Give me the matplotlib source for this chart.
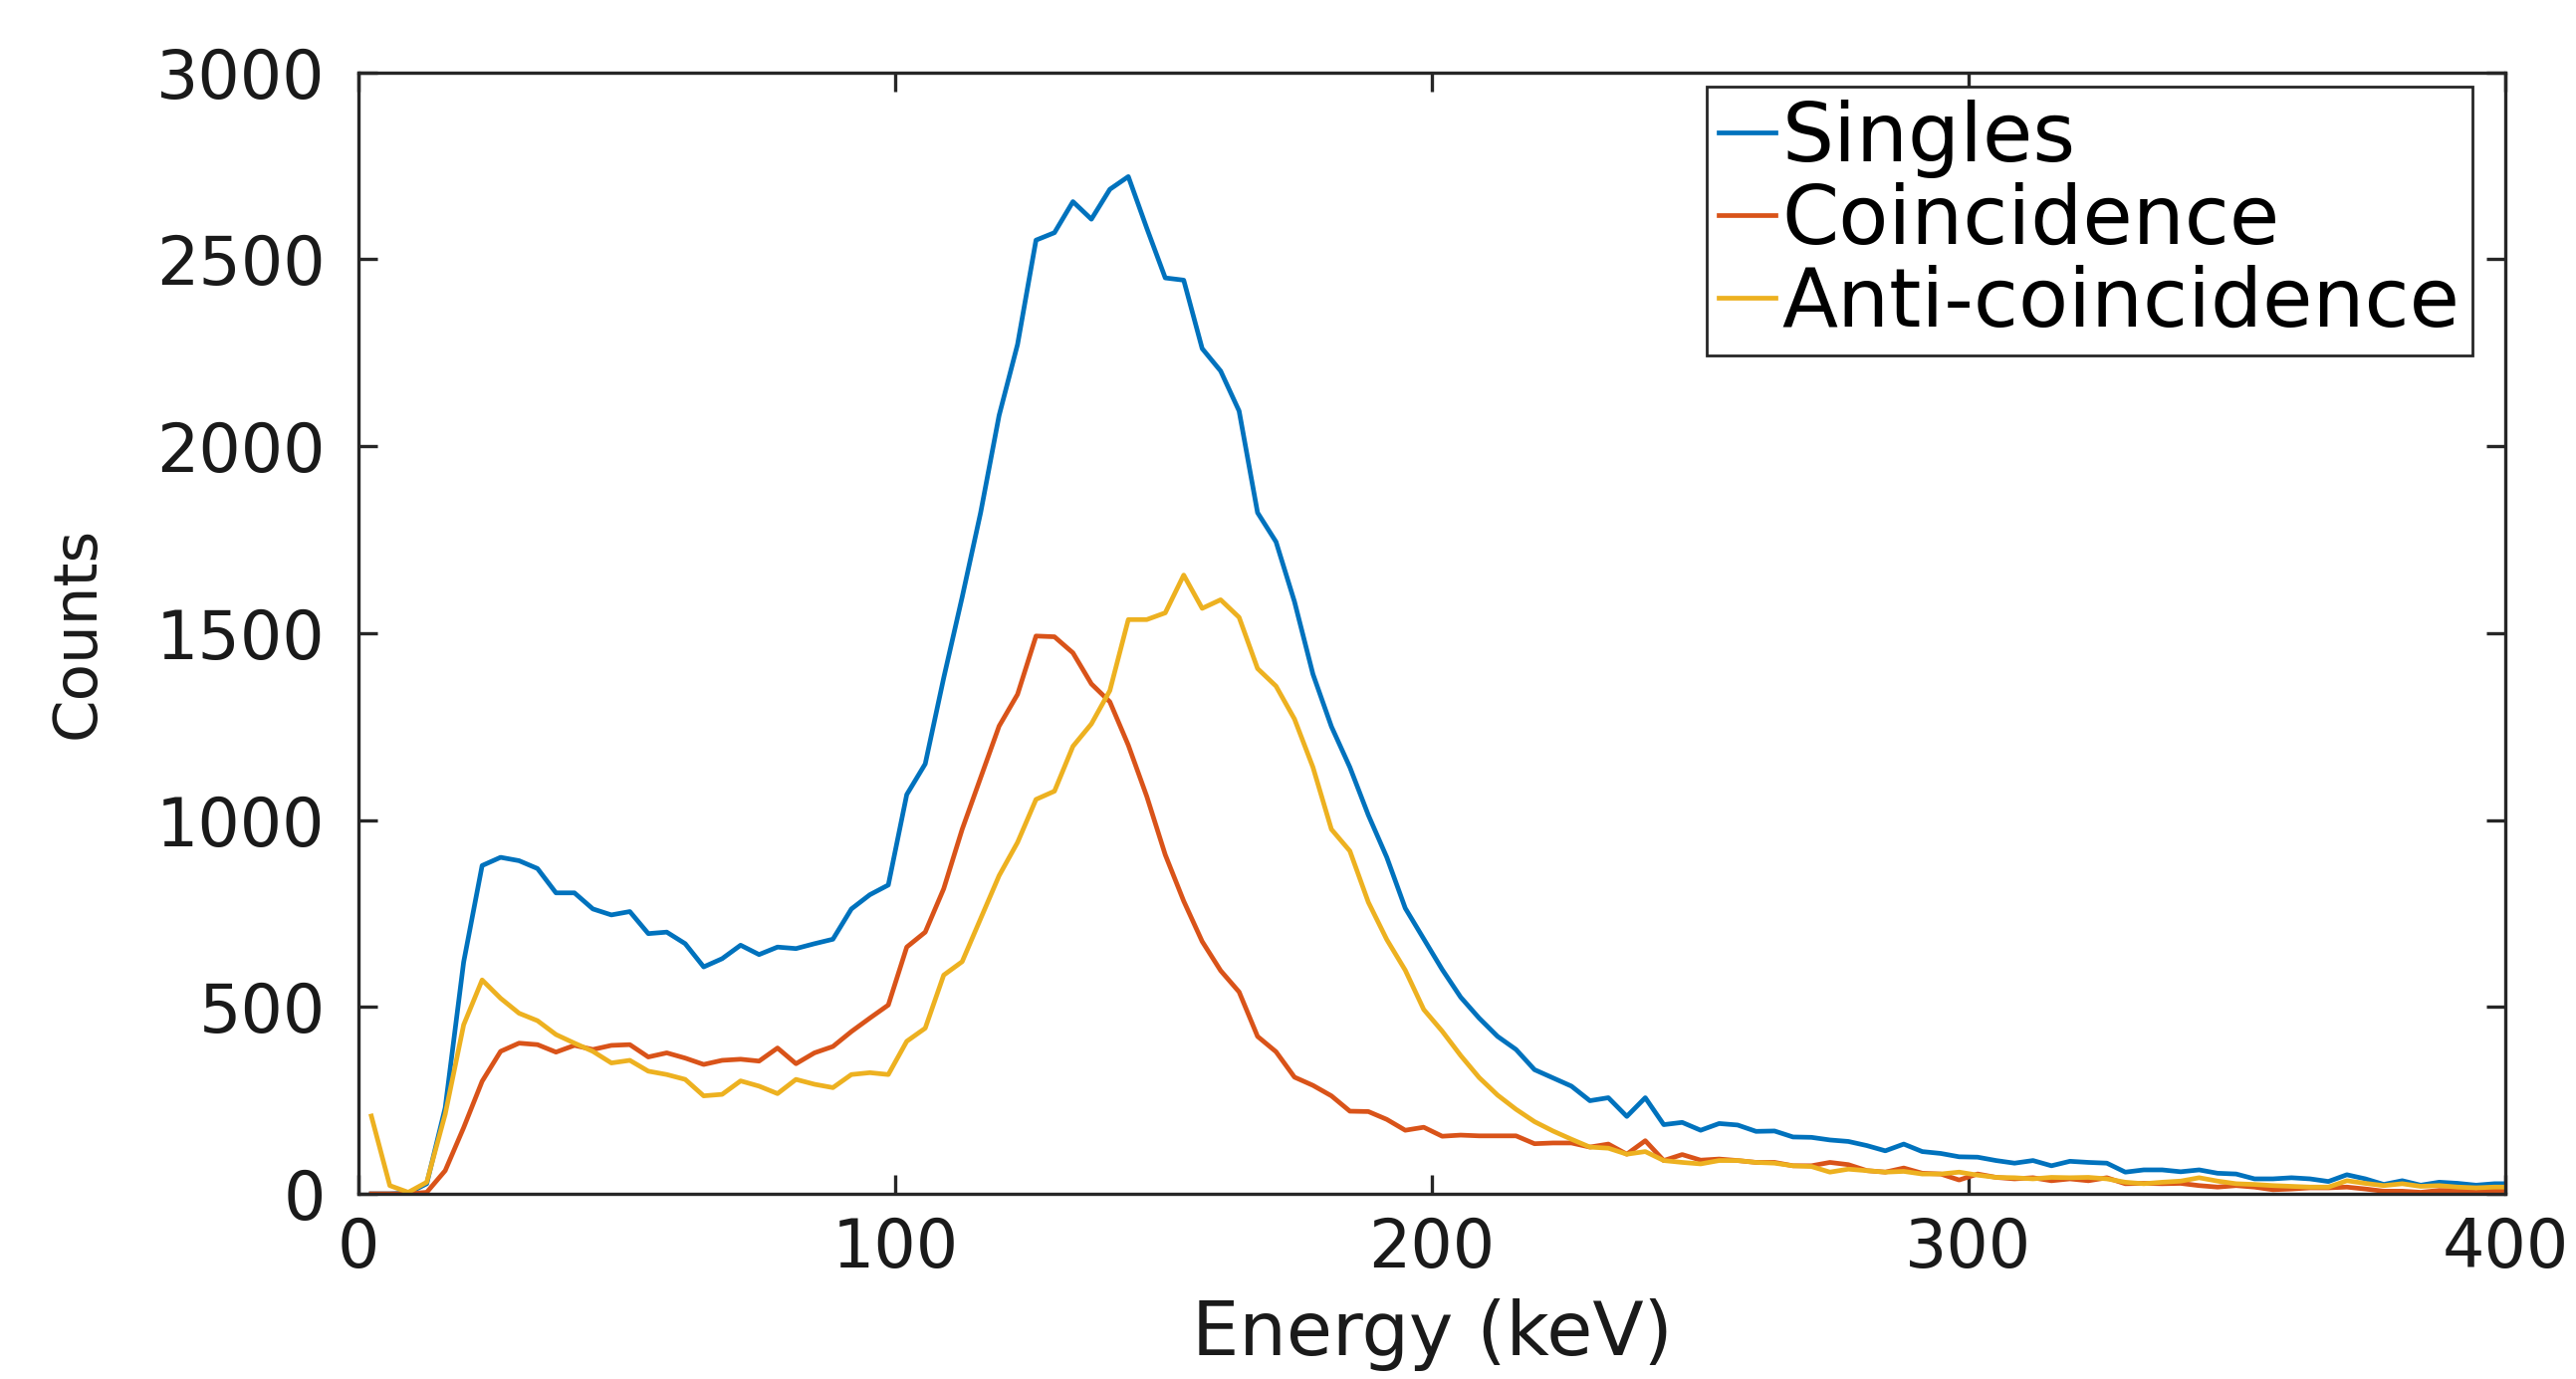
import numpy as np
import matplotlib
matplotlib.use("Agg")
import matplotlib.pyplot as plt

# Channel energies (keV), evenly spaced detector bins
energy = np.linspace(2.4, 2.4 + 3.44 * 116, 117)

singles = [0, 0, 2, 27, 230, 620, 878, 900, 891, 870,
           805, 805, 762, 746, 755, 696, 700, 669, 607, 629,
           665, 640, 660, 656, 669, 681, 762, 800, 826, 1068,
           1150, 1380, 1596, 1822, 2082, 2272, 2551, 2571, 2654, 2607,
           2687, 2721, 2583, 2450, 2444, 2261, 2201, 2094, 1822, 1744,
           1584, 1390, 1250, 1141, 1013, 900, 764, 682, 600, 526,
           470, 421, 386, 332, 310, 288, 249, 257, 207, 257,
           185, 191, 170, 188, 184, 167, 168, 152, 151, 144,
           140, 129, 115, 133, 113, 108, 99, 98, 89, 82,
           89, 75, 87, 84, 82, 58, 64, 64, 59, 64,
           55, 53, 40, 40, 43, 40, 33, 51, 40, 25,
           35, 23, 31, 28, 23, 27, 27]

coincidence = [0, 0, 0, 4, 62, 177, 301, 381, 403, 399,
               379, 397, 386, 397, 399, 366, 377, 363, 346, 357,
               360, 355, 390, 348, 377, 394, 434, 470, 505, 660,
               700, 816, 975, 1113, 1251, 1336, 1492, 1490, 1447, 1364,
               1316, 1200, 1063, 907, 783, 675, 597, 540, 421, 380,
               312, 290, 262, 221, 220, 199, 170, 178, 154, 157,
               155, 155, 155, 134, 136, 136, 125, 133, 106, 142,
               89, 105, 90, 93, 89, 84, 84, 75, 75, 84,
               78, 62, 58, 69, 55, 53, 37, 53, 44, 40,
               43, 35, 40, 35, 43, 27, 28, 27, 28, 22,
               18, 22, 18, 11, 13, 16, 16, 18, 13, 7,
               7, 4, 9, 9, 4, 9, 9]

anti_coincidence = [208, 22, 4, 31, 213, 452, 572, 523, 483, 463,
                    426, 403, 381, 350, 357, 328, 319, 306, 262, 266,
                    302, 288, 268, 306, 293, 284, 319, 324, 319, 408,
                    443, 585, 621, 736, 851, 940, 1055, 1077, 1197, 1257,
                    1346, 1536, 1536, 1554, 1655, 1566, 1589, 1542, 1405, 1358,
                    1270, 1141, 975, 917, 780, 680, 598, 493, 435, 370,
                    311, 264, 226, 193, 168, 146, 125, 122, 106, 113,
                    89, 84, 80, 89, 89, 84, 82, 75, 73, 58,
                    66, 62, 58, 60, 53, 53, 58, 50, 44, 43,
                    40, 44, 43, 44, 40, 31, 27, 31, 34, 43,
                    34, 27, 25, 22, 20, 18, 18, 35, 28, 22,
                    27, 20, 22, 18, 16, 18, 18]

series_labels = ["Singles", "Coincidence", "Anti-coincidence"]
x_ticks = [0, 100, 200, 300, 400]
y_ticks = [0, 500, 1000, 1500, 2000, 2500, 3000]

plt.rcParams['font.family'] = ['DejaVu Sans']

DPI = 200
fig = plt.figure(figsize=(2587 / DPI, 1385 / DPI), dpi=DPI)
ax = fig.add_axes([360 / 2587, 1 - 1199 / 1385, (2516 - 360) / 2587, (1199 - 72.6) / 1385])

colors = ["#0072BD", "#D95319", "#EDB120"]
for vals, lab, c in zip([singles, coincidence, anti_coincidence], series_labels, colors):
    ax.plot(energy, vals, color=c, lw=1.7, label=lab)

ax.set_xlim(0, 400)
ax.set_ylim(0, 3000)
ax.set_xticks(x_ticks)
ax.set_yticks(y_ticks)

axcol = "#262626"
for s in ax.spines.values():
    s.set_linewidth(1.2)
    s.set_color(axcol)
ax.tick_params(direction='in', length=7, width=1.2, colors=axcol,
               top=True, right=True, labelsize=24, labelcolor="#1a1a1a")
ax.tick_params(axis='y', pad=12)
ax.tick_params(axis='x', pad=8)

ax.set_xlabel("Energy (keV)", fontsize=27, color="#1a1a1a")
ax.set_ylabel("Counts", fontsize=22, color="#1a1a1a")
ax.xaxis.set_label_coords(0.5, -0.093)
ax.yaxis.set_label_coords(-0.117, 0.5)

leg = ax.legend(loc='upper right', bbox_to_anchor=(0.9847, 0.987), borderaxespad=0,
                fontsize=29.5, frameon=True, fancybox=False, framealpha=1,
                edgecolor=axcol, handlelength=0.7, handletextpad=0.08,
                labelspacing=0.05, borderpad=0.15)
leg.get_frame().set_linewidth(1.0)

fig.savefig("out.png", dpi=DPI, facecolor="white")
